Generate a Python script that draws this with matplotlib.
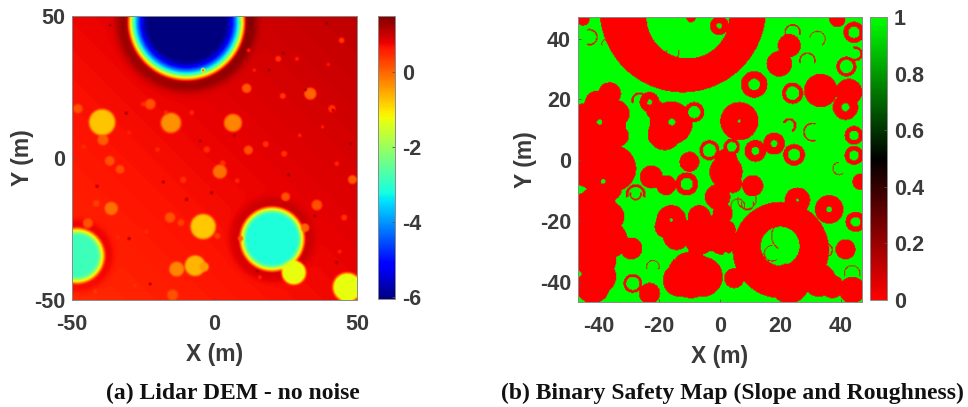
#!/usr/bin/env python3
# -*- coding: utf-8 -*-
import numpy as np
import matplotlib
matplotlib.use('Agg')
import matplotlib.pyplot as plt
from matplotlib.cm import ScalarMappable
from matplotlib.colors import LinearSegmentedColormap, Normalize

W, H = 968, 407
TEXT = '#3a3a3a'

# (a) craters read from the DEM: centre x, y (m), radius (m), floor elevation
CRATER_X = [-9.8, 20.3, -48.4, 27.9, 46.7, -39.5, -15.3, 6.5, -4, -6.8, -13.3, -3.7, 1.9, -36.3, 33.7,
            11.3, -22.6, -48, -39.2, -36.8, -33.2, 48.5, 36, 25, 11.9, -15.6, -44.5, 31.8, -14.7,
            44.7, 41.3, 24.5, 18, -11.8, 1, -11, -41.6, 45.6, 22.4, 24, 2.9, -2.7, 9.3,
            -28, -25, -17, -8, -4, 14, 29, 38, 43, -46, -30, -20, 8, 16, 40, 44, -42, -34, -24, 30, 12]
CRATER_Y = [48, -28.6, -34.5, -40.4, -45.6, 12.6, 12.4, 12.4, -24.2, -38, -39.2, -38.4, -4.8, -17.8, 22.7,
            24.6, 19, 17.4, 6.4, -1, -4, -7.6, -16.6, -13.7, 2.8, -21, -23, -24.6, -48.3,
            41.5, 17.4, 1.5, 4.9, -22.8, -27.5, -7.7, -16, -21, 35, 21.9, -1.8, 3, -28.4,
            -45, 19, 16, 16, 31, 31, 35, 11, -2, 4, 9, 3, -8, -42, 33, -33, -47, -28, -26, 8, 38]
CRATER_R = [21, 11.8, 10.2, 4.2, 5, 4.6, 3.5, 3.1, 4.4, 3.6, 2.6, 1.7, 2.4, 2.3, 2.1,
            1.6, 1.8, 1.6, 1.9, 1.7, 1.5, 1.5, 1.8, 1.5, 1.5, 1.8, 1.7, 1.5, 1.9,
            1, 1.3, 1, 1, 1.2, 1, 1, 1.2, 1, 1, 1, 0.9, 1, 1,
            .8, .8, .7, .7, .6, .6, .7, .6, .8, .7, .6, .7, .7, .6, .7, .6, .7, .6, .7, .6, .7]
CRATER_Z = [-6.05, -3.15, -2.85, -1.3, -1.3, -0.75, -0.35, -0.25, -0.8, -0.65, -0.25, -0.45, -0.1, -0.1, 0,
            0.1, 0.15, 0.15, 0.05, 0.15, 0.2, 0.05, 0.15, 0.15, 0.15, 0.15, 0.15, 0, 0.15,
            .35, .4, .4, .4, .3, .3, .4, .3, .4, .35, .35, .4, .4, 0,
            .45, .45, .45, .45, .45, .5, .5, .5, .5, .45, .5, .45, .45, .45, .6, .5, .35, .45, .45, .45, .5]

# dark specks on the DEM
SPECK_X = [-36.7, -31, 24.2, 19.2, 32, 39.4, 48, -1, -30, -18, 41.7, -22.6, 35.3, -9.8, 42.9, -41.3, 7, -5, 15, 26]
SPECK_Y = [46.8, 15.8, 37, 31, 24, 47.5, 5, -12.3, -28.4, -8.5, 16.9, -44.4, -20.5, -14.6, -36.8, -10, 8, 6, -40, -6]

# (b) large rings drawn first: outer circle, then the safe hole inside it
RING_X = [-12.2, 20.2]
RING_Y = [49.9, -29.6]
RING_R = [27.5, 15.9]
RING_HOLE_X = [-10.5, 20]
RING_HOLE_Y = [47.3, -28.3]
RING_HOLE_R = [13.7, 6.4]

# (b) unsafe discs
DISC_X = [11.4, 24.1, 41.9, 44.4, -0.1, 23, 19.7, 33.4, 42.7, 41.6, 44.4, 44.4, 46.6, 44.9, 41.6, 36.2,
          24.6, 11.8, 18, 4, 6.5, -3.4, -10, -10.9, 2.1, 2.1, 4.3, 10.9, -0.7, 1, -16, -17.7, -6.7, -10, -2.3,
          25.7, 37.3, 43.8, 32.9, -9.5, -5.6, -13.3, 4.8, -23.2, -28.7, -29.2, -36.4, -40.8, -41.9, -40.8,
          -41.9, -45.7, -39.7, -40.8, -45.2, -36.4, -34.2, -41.9, -35.3, -44.1, -32, -35.8, -16, -21, -23.2,
          -8.4, -22.6, -17.7, -45.2, -9.5, 38.9,
          -39.7, -45.2, -36.4, -39.7, -6.7, -14.3, 1, 2, -37.5, -40.3, -46, -18.2, 23, -44, -33.5]
DISC_Y = [25, 22.1, 30.9, 42.2, 44.4, 37.8, 31.8, 23, 22.5, 17.5, 8.2, 1.6, -7.1, -20.3, -29.4, -16.2,
          1.8, 3.1, 5.5, 4.4, 12.9, 3.3, -0.5, -7.8, -3.8, 0, -7.7, -8.4, -12.1, -17.5, -19.7, -21.9, -18.6, -24.1, -24.1,
          -13.2, -41.7, -42.8, -39.5, -37.8, -38.4, -39.5, -38.9, -43.9, -40.6, -29.1, -18.6, -15.4, -24.1, -32.9,
          -41.7, -14.3, 12.6, 8.8, 14.3, 21.9, 15.4, -1.1, -2.7, -4.4, -2.7, -9.9, 12.3, 16.4, 19.2,
          15.9, -5.5, -8.2, 46.6, 47.1, 46.6,
          -4.4, -19.7, -26.3, -38.4, -26.3, -25.2, -26.3, -23, 11, 18.6, 4.4, 8.8, -40.6, 9, 8]
DISC_R = [4.4, 3.5, 3.3, 3.5, 3.1, 3.8, 4.2, 5.5, 4.4, 4.2, 3.1, 3.1, 2.7, 3.3, 3.3, 4.7,
          3.6, 3.6, 3.6, 2.7, 6.3, 3.3, 3.3, 3.8, 5.5, 3.8, 3.1, 3.5, 4.2, 3.3, 4.9, 3.8, 3.8, 4.4, 6,
          4.2, 3.8, 4.4, 5.5, 7.7, 6.6, 5.5, 3.3, 3.5, 3.1, 3.6, 4.9, 6.6, 7.7, 6.6,
          5.5, 3.3, 7.7, 6.6, 4.4, 3.8, 4.4, 5.5, 7.7, 4.4, 4.4, 3.3, 7.1, 3.3, 3.3,
          3.3, 3.8, 3.3, 2.2, 1.6, 2.7,
          6.6, 5.5, 6, 5.5, 4.9, 4.4, 4.9, 3.3, 6.6, 4.4, 3, 5.5, 6.6, 5, 3.5]

# (b) safe centres of the small rings
HOLE_X = [11.4, 24.1, 41.9, 44.4, -0.1, 41.6, 44.4, 44.4, 44.9, 36.2, 24.6, 11.8, 18, 4, 6.5, -3.4,
          -10.9, -16, 25.7, -28.7, -39.7, -15.8, -23.2, -8.4, -38.5, 2, -15]
HOLE_Y = [25, 22.1, 30.9, 42.2, 44.4, 17.5, 8.2, 1.6, -20.3, -16.2, 1.8, 3.1, 5.5, 4.4, 12.9, 3.3,
          -7.8, -19.7, -13.2, -40.6, 12.6, 12.6, 19.2, 15.9, -7, -31, -32]
HOLE_R = [1.9, 2.2, 2.2, 1.9, 0.9, 1.3, 1.6, 1.6, 1.6, 0.9, 2, 1.3, 1.1, 1.6, 0.5, 2.2,
          2, 0.5, 0.5, 2.2, 0.9, 1.1, 0.9, 2, 0.8, 0.7, 0.6]

# (b) thin unsafe arcs: centre, outer and inner radius, direction the arc faces (deg)
THIN_X = [-43, -37.5, 32.3, 29, 44.9, 23, 30.7, -27.8, -27.8, 39.5, 43.8, 35, 9.2, -21, -26.5, 24.1, -15.5, 17.3, -22.1, 9, 22, 6]
THIN_Y = [40.6, 38.4, 40, 32.9, 35.1, 11.5, 9.3, -11.2, -11.2, -2.7, -37.3, -29.6, -14.3, 7.7, 19.7, 42.2, 35.6, -30.7, -35.1, -13, -25, -15]
THIN_OUT = [2.7, 1.6, 2.7, 2.7, 2.4, 2.4, 3.1, 3.3, 2, 2.2, 2.7, 2.4, 2.2, 2.7, 2.7, 2.7, 2.2, 2.7, 2.2, 3.2, 5, 2.4]
THIN_IN = [2.2, 1.3, 2.4, 2.2, 1.6, 1.6, 2.6, 2.4, 1.5, 1.9, 2.4, 2, 1.9, 2.2, 2, 2.2, 1.9, 2.4, 1.9, 2.9, 4.7, 2.1]
THIN_DIR = [0, 90, 60, 90, 0, 45, 180, 90, 270, 200, 90, 0, 270, 180, 90, 90, 270, 200, 90, 270, 130, 90]


def px_axes(fig, x0, x1, y0, y1):
    """坐标轴按像素位置放置"""
    return fig.add_axes([x0 / W, 1 - y1 / H, (x1 - x0) / W, (y1 - y0) / H])


def soften(img, passes=2, k=5):
    """简单盒式模糊, 参考图本身是偏糊的截图"""
    kernel = np.ones(k) / k
    out = img.copy()
    for _ in range(passes):
        pad = np.pad(out, k // 2, mode='edge')
        pad = np.apply_along_axis(lambda v: np.convolve(v, kernel, mode='same'), 0, pad)
        pad = np.apply_along_axis(lambda v: np.convolve(v, kernel, mode='same'), 1, pad)
        out = pad[k // 2:-(k // 2), k // 2:-(k // 2)]
    return out


def build_dem():
    x = np.linspace(-50, 50, 500)
    y = np.linspace(-50, 50, 500)
    xx, yy = np.meshgrid(x, y)
    z = 0.76 + 0.3 * (xx + yy) / 100
    for i in np.argsort(CRATER_R)[::-1]:
        r = np.hypot(xx - CRATER_X[i], yy - CRATER_Y[i])
        R = CRATER_R[i]
        if R > 15:
            # 最大的坑: 外壁陡, 往里慢慢变深
            t = 1 - (1 - np.clip((R - r) / 8.0, 0, 1)) ** 2
            z = z + 0.5 * np.exp(-((r - R - 1.5) / 2.6) ** 2)
        elif R > 8:
            t = 1 - (1 - np.clip((R - r) / 3.2, 0, 1)) ** 1.5
            z = z + 0.22 * np.exp(-((r - R - 1.0) / 2.2) ** 2)
        else:
            t = np.clip((R - r) / (0.22 * R + 0.2) + 0.5, 0, 1)
            t = t * t * (3 - 2 * t)
        z = z * (1 - t) + CRATER_Z[i] * t
    for sx, sy in zip(SPECK_X, SPECK_Y):
        z[np.hypot(xx - sx, yy - sy) < 0.4] = 1.6
    return x, y, soften(z, passes=2, k=3)


def build_safety():
    x = np.linspace(-46.7, 46.9, 320)
    y = np.linspace(-46.6, 47.1, 320)
    xx, yy = np.meshgrid(x, y)
    safe = np.ones_like(xx)
    for cx, cy, r in zip(RING_X, RING_Y, RING_R):
        safe[np.hypot(xx - cx, yy - cy) < r] = 0
    for cx, cy, r in zip(RING_HOLE_X, RING_HOLE_Y, RING_HOLE_R):
        safe[np.hypot(xx - cx, yy - cy) < r] = 1
    for cx, cy, r in zip(DISC_X, DISC_Y, DISC_R):
        safe[np.hypot(xx - cx, yy - cy) < r] = 0
    for cx, cy, r in zip(HOLE_X, HOLE_Y, HOLE_R):
        safe[np.hypot(xx - cx, yy - cy) < r] = 1
    for cx, cy, ro, ri, face in zip(THIN_X, THIN_Y, THIN_OUT, THIN_IN, THIN_DIR):
        d = np.hypot(xx - cx, yy - cy)
        ang = np.degrees(np.arctan2(yy - cy, xx - cx))
        off = np.abs((ang - face + 180) % 360 - 180)
        safe[(d < ro) & (d > ri) & (off < 110)] = 0
    return x, y, safe


def style_axes(ax):
    for spine in ax.spines.values():
        spine.set_color('#8a8a8a')
        spine.set_linewidth(0.7)
    ax.tick_params(axis='x', direction='in', length=2.5, width=0.6, color='#555555',
                   labelsize=15.5, labelcolor=TEXT, pad=10)
    ax.tick_params(axis='y', direction='in', length=2.5, width=0.6, color='#555555',
                   labelsize=15.5, labelcolor=TEXT, pad=5)
    for lab in ax.get_xticklabels() + ax.get_yticklabels():
        lab.set_fontweight('bold')


def style_cbar(cb, labels):
    cb.set_ticklabels(labels)
    cb.ax.tick_params(direction='in', length=2.5, width=0.6, color='#555555',
                      labelsize=15.5, labelcolor=TEXT, pad=5)
    for lab in cb.ax.get_yticklabels():
        lab.set_fontweight('bold')
    cb.outline.set_edgecolor('#8a8a8a')
    cb.outline.set_linewidth(0.7)


plt.rcParams['font.family'] = ['Liberation Sans', 'DejaVu Sans']
plt.rcParams['axes.unicode_minus'] = False

fig = plt.figure(figsize=(W / 100, H / 100), dpi=100, facecolor='white')

# (a) DEM
ax1 = px_axes(fig, 72, 357, 16, 300)
xd, yd, dem = build_dem()
im1 = ax1.imshow(dem, origin='lower', extent=[-50, 50, -50, 50], cmap='jet',
                 vmin=-6.05, vmax=1.49, interpolation='bilinear', aspect='auto')
ax1.set_xticks([-50, 0, 50])
ax1.set_yticks([-50, 0, 50])
ax1.set_xticklabels(['-50', '0', '50'])
ax1.set_yticklabels(['-50', '0', '50'])
style_axes(ax1)
ax1.set_xlabel('X (m)', fontsize=16.5, fontweight='bold', color=TEXT, labelpad=6)
ax1.set_ylabel('Y (m)', fontsize=16.5, fontweight='bold', color=TEXT, labelpad=0)
cax1 = px_axes(fig, 378, 395, 16, 299)
cb1 = fig.colorbar(im1, cax=cax1, ticks=[-6, -4, -2, 0])
style_cbar(cb1, ['-6', '-4', '-2', '0'])

# (b) safety map, RGB 插值避免红绿交界处出现黑边
ax2 = px_axes(fig, 578, 862, 17, 302)
xs, ys, safety = build_safety()
rg = LinearSegmentedColormap.from_list('rg', ['#ff0000', '#000000', '#00ff00'], N=256)
rgb = rg(safety)[:, :, :3]
ax2.imshow(rgb, origin='lower', extent=[-46.7, 46.9, -46.6, 47.1],
           interpolation='bilinear', aspect='auto')
ax2.set_xticks([-40, -20, 0, 20, 40])
ax2.set_yticks([-40, -20, 0, 20, 40])
ax2.set_xticklabels(['-40', '-20', '0', '20', '40'])
ax2.set_yticklabels(['-40', '-20', '0', '20', '40'])
style_axes(ax2)
ax2.set_xlabel('X (m)', fontsize=16.5, fontweight='bold', color=TEXT, labelpad=6)
ax2.set_ylabel('Y (m)', fontsize=16.5, fontweight='bold', color=TEXT, labelpad=2)
cax2 = px_axes(fig, 870, 887, 17, 300)
cb2 = fig.colorbar(ScalarMappable(norm=Normalize(0, 1), cmap=rg), cax=cax2, ticks=[0, 0.2, 0.4, 0.6, 0.8, 1])
style_cbar(cb2, ['0', '0.2', '0.4', '0.6', '0.8', '1'])

# 图注
fig.text(233 / W, 1 - 393 / H, '(a) Lidar DEM - no noise', family='Liberation Serif',
         fontweight='bold', fontsize=17, color='#111111', ha='center', va='center')
fig.text(732 / W, 1 - 393 / H, '(b) Binary Safety Map (Slope and Roughness)', family='Liberation Serif',
         fontweight='bold', fontsize=17, color='#111111', ha='center', va='center')

fig.savefig('out.png', dpi=100, facecolor='white')
